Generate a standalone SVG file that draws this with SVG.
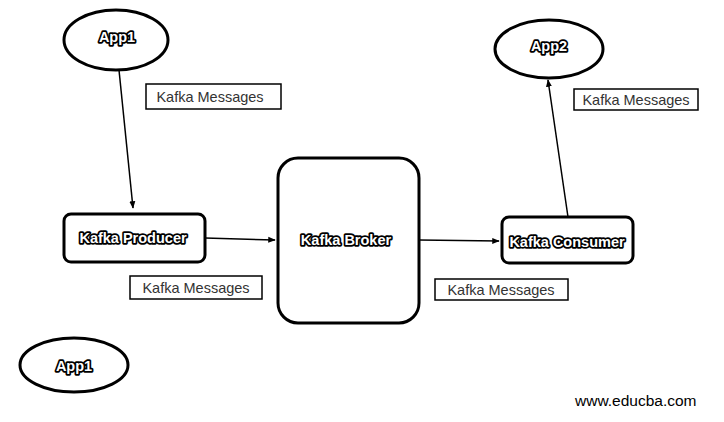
<svg xmlns="http://www.w3.org/2000/svg" width="724" height="422" viewBox="0 0 724 422">
<defs>
<style>
.shape{fill:#fff;stroke:#000;stroke-width:3}
.t{font-family:"Liberation Sans",Arial,sans-serif;font-weight:bold;font-size:14.5px;fill:#fff;stroke:#000;stroke-width:3.5;paint-order:stroke;stroke-linejoin:round;text-anchor:middle;dominant-baseline:central}
.lbl{fill:#fff;stroke:#000;stroke-width:1.5}
.lt{font-family:"Liberation Sans",Arial,sans-serif;font-size:14.5px;fill:#333;text-anchor:middle;dominant-baseline:central}
.c{stroke:#000;stroke-width:1.5;fill:none;marker-end:url(#ah)}
</style>
<marker id="ah" viewBox="0 0 10 10" refX="9" refY="5" markerWidth="5" markerHeight="5" orient="auto">
<path d="M0,1 L10,5 L0,9 z" fill="#000"/>
</marker>
</defs>
<rect width="724" height="422" fill="#fff"/>
<g id="connectors">
<path class="c" d="M119,70 L133,208"/>
<path class="c" d="M205,238 L275,240"/>
<path class="c" d="M419,240 L499,241"/>
<path class="c" d="M568,217 L548,80"/>
</g>
<g id="app1-top">
<ellipse class="shape" cx="116" cy="40" rx="52" ry="30"/>
<text class="t" x="117" y="37">App1</text>
</g>
<g id="app2">
<ellipse class="shape" cx="549" cy="49" rx="54" ry="29"/>
<text class="t" x="549" y="46">App2</text>
</g>
<g id="producer">
<rect class="shape" x="64" y="214" width="141" height="48" rx="7"/>
<text class="t" x="133" y="238">Kafka Producer</text>
</g>
<g id="broker">
<rect class="shape" x="278" y="158" width="141" height="165" rx="20"/>
<text class="t" x="346" y="240">Kafka Broker</text>
</g>
<g id="consumer">
<rect class="shape" x="502" y="217" width="131" height="46" rx="7"/>
<text class="t" x="567" y="242">Kafka Consumer</text>
</g>
<g id="app1-bottom">
<ellipse class="shape" cx="74" cy="365" rx="54" ry="27"/>
<text class="t" x="74" y="366">App1</text>
</g>
<g id="labels">
<rect class="lbl" x="146" y="84" width="135" height="25"/>
<text class="lt" x="210" y="97">Kafka Messages</text>
<rect class="lbl" x="574" y="89" width="124" height="21"/>
<text class="lt" x="636" y="100">Kafka Messages</text>
<rect class="lbl" x="130" y="276" width="132" height="23"/>
<text class="lt" x="196" y="288">Kafka Messages</text>
<rect class="lbl" x="435" y="279" width="133" height="21"/>
<text class="lt" x="501" y="290">Kafka Messages</text>
</g>
<text x="575" y="406" font-family="'Liberation Sans',Arial,sans-serif" font-size="15.5" fill="#000">www.educba.com</text>
</svg>
